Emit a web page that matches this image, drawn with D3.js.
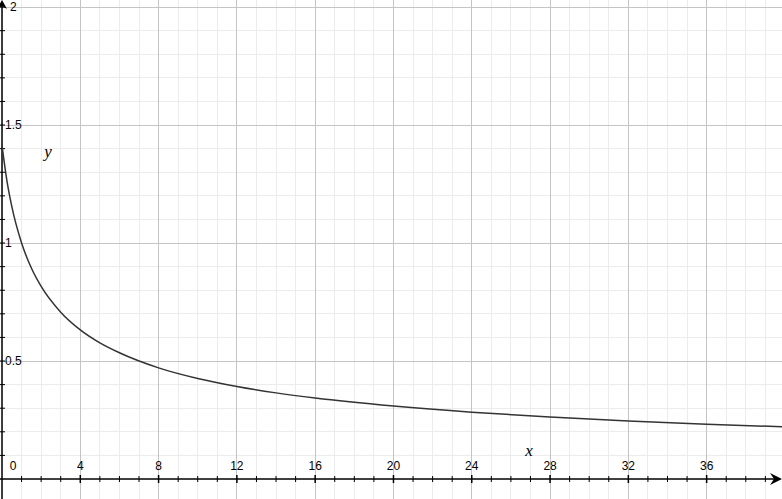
<!DOCTYPE html>
<html>
<head>
<meta charset="utf-8">
<script src="https://cdnjs.cloudflare.com/ajax/libs/d3/7.8.5/d3.min.js"></script>
<style>
  html, body { margin: 0; padding: 0; background: #fff; }
  svg { display: block; }
</style>
</head>
<body>
<svg id="chart" width="782" height="499"></svg>
<script>
// curve points
const xValues = [0, 0.25, 0.5, 1, 1.5, 2, 3, 4, 5, 6, 8, 10, 12, 14, 16, 20, 24, 28, 32, 36, 40];
const yValues = [1.414, 1.265, 1.155, 1.0, 0.894, 0.816, 0.707, 0.632, 0.577, 0.535, 0.471, 0.426, 0.392, 0.365, 0.343, 0.309, 0.283, 0.263, 0.246, 0.232, 0.221];

const xTicks = [0, 4, 8, 12, 16, 20, 24, 28, 32, 36];
const yTicks = [0.5, 1, 1.5, 2];

const width = 782, height = 499;
const svg = d3.select('#chart');

const x = d3.scaleLinear().domain([0, 39.85]).range([2, 782]);
const y = d3.scaleLinear().domain([0, 2.03]).range([479, 0]);

const minorX = d3.range(0, 40, 1);
const minorY = d3.range(0.1, 2.05, 0.1);

// minor grid
svg.append('g')
    .selectAll('line')
    .data(minorX)
    .enter()
    .append('line')
    .attr('x1', d => x(d)).attr('x2', d => x(d))
    .attr('y1', 0).attr('y2', height)
    .attr('stroke', '#ececec')
    .attr('shape-rendering', 'crispEdges');

svg.append('g')
    .selectAll('line')
    .data(minorY)
    .enter()
    .append('line')
    .attr('x1', 0).attr('x2', width)
    .attr('y1', d => y(d)).attr('y2', d => y(d))
    .attr('stroke', '#ececec')
    .attr('shape-rendering', 'crispEdges');

// major grid
svg.append('g')
    .selectAll('line')
    .data(xTicks.filter(d => d > 0))
    .enter()
    .append('line')
    .attr('x1', d => x(d)).attr('x2', d => x(d))
    .attr('y1', 0).attr('y2', height)
    .attr('stroke', '#c4c4c4')
    .attr('shape-rendering', 'crispEdges');

svg.append('g')
    .selectAll('line')
    .data(yTicks)
    .enter()
    .append('line')
    .attr('x1', 0).attr('x2', width)
    .attr('y1', d => y(d)).attr('y2', d => y(d))
    .attr('stroke', '#c4c4c4')
    .attr('shape-rendering', 'crispEdges');

// axes lines
svg.append('line')
    .attr('x1', 0).attr('x2', width - 6)
    .attr('y1', y(0)).attr('y2', y(0))
    .attr('stroke', '#000').attr('stroke-width', 1.5);
svg.append('line')
    .attr('x1', x(0)).attr('x2', x(0))
    .attr('y1', 6).attr('y2', height)
    .attr('stroke', '#000').attr('stroke-width', 1.5);

// arrows
svg.append('path')
    .attr('d', `M${width},${y(0)} L${width - 12},${y(0) - 6} L${width - 8},${y(0)} L${width - 12},${y(0) + 6} Z`)
    .attr('fill', '#000');
svg.append('path')
    .attr('d', `M${x(0)},0 L${x(0) - 5},9 L${x(0)},6 L${x(0) + 5},9 Z`)
    .attr('fill', '#000');

// axis tick marks
svg.append('g')
    .selectAll('line')
    .data(minorX.filter(d => d > 0))
    .enter()
    .append('line')
    .attr('x1', d => x(d)).attr('x2', d => x(d))
    .attr('y1', d => y(0) - (d % 4 === 0 ? 4 : 3))
    .attr('y2', d => y(0) + (d % 4 === 0 ? 4 : 3))
    .attr('stroke', '#000').attr('stroke-width', d => d % 4 === 0 ? 1.5 : 1);

svg.append('g')
    .selectAll('line')
    .data(minorY)
    .enter()
    .append('line')
    .attr('x1', x(0) - 3).attr('x2', x(0) + 3)
    .attr('y1', d => y(d)).attr('y2', d => y(d))
    .attr('stroke', '#000');

// tick labels
svg.append('g')
    .selectAll('text')
    .data(xTicks)
    .enter()
    .append('text')
    .attr('x', d => d === 0 ? x(d) + 11 : x(d))
    .attr('y', 470)
    .attr('text-anchor', 'middle')
    .style('font-family', 'Liberation Sans, Arial, sans-serif')
    .style('font-size', '12px')
    .text(d => d);

svg.append('g')
    .selectAll('text')
    .data(yTicks)
    .enter()
    .append('text')
    .attr('x', d => d === 2 ? 10 : 5)
    .attr('y', d => y(d))
    .attr('dy', '0.35em')
    .style('font-family', 'Liberation Sans, Arial, sans-serif')
    .style('font-size', '12px')
    .text(d => d);

// axis names
svg.append('text')
    .attr('x', 48).attr('y', 157)
    .attr('text-anchor', 'middle')
    .style('font-family', 'Liberation Serif, Times New Roman, serif')
    .style('font-style', 'italic')
    .style('font-size', '17px')
    .text('y');
svg.append('text')
    .attr('x', 529).attr('y', 456)
    .attr('text-anchor', 'middle')
    .style('font-family', 'Liberation Serif, Times New Roman, serif')
    .style('font-style', 'italic')
    .style('font-size', '17px')
    .text('x');

// curve
const points = xValues.map((d, i) => [d, yValues[i]]);
const line = d3.line()
    .x(d => x(d[0]))
    .y(d => y(d[1]))
    .curve(d3.curveMonotoneX);

svg.append('path')
    .datum(points)
    .attr('d', line)
    .attr('fill', 'none')
    .attr('stroke', '#333')
    .attr('stroke-width', 1.5);
</script>
</body>
</html>
